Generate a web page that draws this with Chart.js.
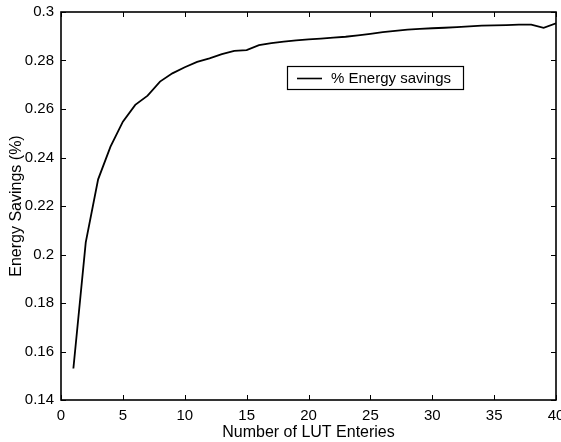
<!DOCTYPE html>
<html>
<head>
<meta charset="utf-8">
<script src="https://cdn.jsdelivr.net/npm/chart.js@4/dist/chart.umd.min.js"></script>
<style>
  html, body { margin: 0; padding: 0; background: #fff; }
  #wrap { width: 561px; height: 442px; position: relative; }
</style>
</head>
<body>
<div id="wrap"><canvas id="chart"></canvas></div>
<script>
// values
const lutEntries = [1, 2, 3, 4, 5, 6, 7, 8, 9, 10,
  11, 12, 13, 14, 15, 16, 17, 18, 19, 20,
  21, 22, 23, 24, 25, 26, 27, 28, 29, 30,
  31, 32, 33, 34, 35, 36, 37, 38, 39, 40];
const energySavings = [0.153, 0.205, 0.231, 0.2445, 0.2548, 0.2617, 0.2655, 0.2713, 0.2747, 0.2772,
  0.2794, 0.2809, 0.2826, 0.2840, 0.2843, 0.2863, 0.2872, 0.2878, 0.2883, 0.2887,
  0.2890, 0.2894, 0.2898, 0.2904, 0.2910, 0.2917, 0.2922, 0.2927, 0.2930, 0.2933,
  0.2935, 0.2938, 0.2941, 0.2944, 0.2945, 0.2946, 0.2948, 0.2948, 0.2935, 0.2953];
const xTicks = [0, 5, 10, 15, 20, 25, 30, 35, 40];
const yTicks = [0.14, 0.16, 0.18, 0.2, 0.22, 0.24, 0.26, 0.28, 0.3];
const seriesLabel = '% Energy savings';

const FONT = 'Arial, "Liberation Sans", Helvetica, sans-serif';

// matlab-like box with inward ticks + legend box
const boxPlugin = {
  id: 'boxPlugin',
  afterDatasetsDraw(chart) {
    const { ctx, chartArea: a, scales } = chart;
    const tl = 5;
    ctx.save();
    ctx.strokeStyle = '#000';
    ctx.lineWidth = 1.6;
    ctx.strokeRect(a.left, a.top, a.right - a.left, a.bottom - a.top);
    ctx.lineWidth = 1;
    ctx.beginPath();
    xTicks.forEach(v => {
      const px = Math.round(scales.x.getPixelForValue(v)) + 0.5;
      ctx.moveTo(px, a.bottom); ctx.lineTo(px, a.bottom - tl);
      ctx.moveTo(px, a.top); ctx.lineTo(px, a.top + tl);
    });
    yTicks.forEach(v => {
      const py = Math.round(scales.y.getPixelForValue(v)) + 0.5;
      ctx.moveTo(a.left, py); ctx.lineTo(a.left + tl, py);
      ctx.moveTo(a.right, py); ctx.lineTo(a.right - tl, py);
    });
    ctx.stroke();

    // legend
    const lx = 287, ly = 66, lw = 176, lh = 23;
    ctx.fillStyle = '#fff';
    ctx.fillRect(lx, ly, lw, lh);
    ctx.strokeStyle = '#000';
    ctx.lineWidth = 1.2;
    ctx.strokeRect(lx + 0.5, ly + 0.5, lw, lh);
    ctx.lineWidth = 1.6;
    ctx.beginPath();
    ctx.moveTo(lx + 10, ly + 12.5);
    ctx.lineTo(lx + 35, ly + 12.5);
    ctx.stroke();
    ctx.fillStyle = '#000';
    ctx.font = '15px ' + FONT;
    ctx.textBaseline = 'middle';
    ctx.fillText(chart.data.datasets[0].label, lx + 44, ly + 12.5);
    ctx.restore();
  }
};

new Chart(document.getElementById('chart'), {
  type: 'line',
  data: {
    datasets: [{
      label: seriesLabel,
      data: lutEntries.map((x, i) => ({ x: x, y: energySavings[i] })),
      borderColor: '#000',
      borderWidth: 1.8,
      pointRadius: 0,
      tension: 0,
      fill: false
    }]
  },
  options: {
    responsive: true,
    maintainAspectRatio: false,
    animation: false,
    layout: { padding: { top: 12, right: 5, left: 0, bottom: 0 } },
    plugins: {
      legend: { display: false },
      tooltip: { enabled: false }
    },
    scales: {
      x: {
        type: 'linear',
        min: 0,
        max: 40,
        afterBuildTicks: s => { s.ticks = xTicks.map(v => ({ value: v })); },
        afterFit: s => { s.height = 42; s.paddingLeft = 0; s.paddingRight = 0; },
        grid: { display: false, drawTicks: false },
        border: { display: false },
        ticks: {
          color: '#000',
          padding: 7,
          maxRotation: 0,
          font: { family: FONT, size: 15 }
        },
        title: {
          display: true,
          text: 'Number of LUT Enteries',
          color: '#000',
          padding: { top: 0, bottom: 0 },
          font: { family: FONT, size: 16 }
        }
      },
      y: {
        min: 0.14,
        max: 0.3,
        afterBuildTicks: s => { s.ticks = yTicks.map(v => ({ value: v })); },
        afterFit: s => { s.width = 61; s.paddingTop = 0; s.paddingBottom = 0; },
        grid: { display: false, drawTicks: false },
        border: { display: false },
        ticks: {
          color: '#000',
          padding: 7,
          font: { family: FONT, size: 15 },
          callback: v => String(+v.toFixed(2))
        },
        title: {
          display: true,
          text: 'Energy Savings (%)',
          color: '#000',
          padding: { top: 7, bottom: 0 },
          font: { family: FONT, size: 16 }
        }
      }
    }
  },
  plugins: [boxPlugin]
});
</script>
</body>
</html>
